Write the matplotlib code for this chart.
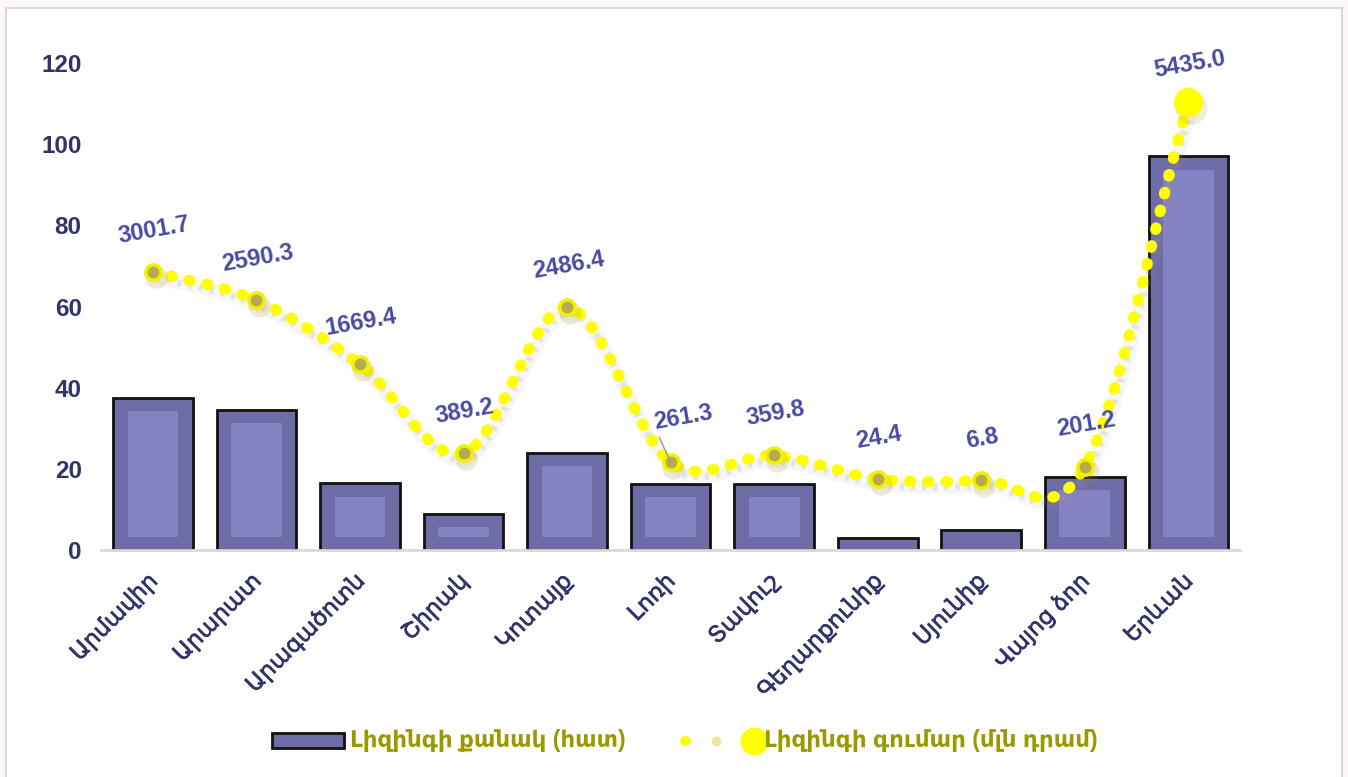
import numpy as np
import matplotlib
matplotlib.use("Agg")
import matplotlib.pyplot as plt
import matplotlib.transforms as mtransforms
import matplotlib.patheffects as pe
from matplotlib.patches import Rectangle
from matplotlib.lines import Line2D

plt.rcParams['font.family'] = ['Liberation Sans', 'DejaVu Sans']

regions = ["Արմավիր", "Արարատ", "Արագածոտն", "Շիրակ", "Կոտայք", "Լոռի",
           "Տավուշ", "Գեղարքունիք", "Սյունիք", "Վայոց ձոր", "Երևան"]
lease_count = [37.5, 34.5, 16.5, 9, 24, 16.3, 16.3, 3, 5, 18, 97]
lease_amount = [3001.7, 2590.3, 1669.4, 389.2, 2486.4, 261.3, 359.8, 24.4, 6.8, 201.2, 5435.0]
amount_labels = ["3001.7", "2590.3", "1669.4", "389.2", "2486.4", "261.3",
                 "359.8", "24.4", "6.8", "201.2", "5435.0"]
legend_labels = ["Լիզինգի քանակ (հատ)", "Լիզինգի գումար (մլն դրամ)"]

label_navy = '#33336b'
label_blue = '#4a4aa3'
olive = '#9a9a00'
bar_color = '#6e6ca6'

fig = plt.figure(figsize=(13.48, 7.77), dpi=100)
fig.patch.set_facecolor('#fdf7fc')
fig.add_artist(Rectangle((6 / 1348, -0.01), 1336 / 1348, 1 - 8 / 777 + 0.01,
                         transform=fig.transFigure, facecolor='white',
                         edgecolor='#d9d9d9', linewidth=1.5, zorder=-5))

ax = fig.add_axes([0.075, 0.292, 0.845, 0.627])
ax.patch.set_alpha(0)
x = np.arange(len(regions))

# bars: darker outer body with a lighter inset panel
ax.bar(x, lease_count, width=0.77, color=bar_color, edgecolor='#111111',
       linewidth=2, zorder=2)
inset = 3.3
for xi, v in zip(x, lease_count):
    if v > 2 * inset + 1:
        ax.bar(xi, v - 2 * inset, bottom=inset, width=0.49, color='#8582c4',
               linewidth=0, zorder=3)

ax.set_xlim(-0.5, len(regions) - 0.5)
ax.set_ylim(0, 120)
ax.set_yticks(np.arange(0, 121, 20))
ax.tick_params(axis='y', length=0, pad=14, labelsize=17.5, labelcolor=label_navy)
for t in ax.get_yticklabels():
    t.set_fontweight('bold')
ax.set_xticks(x)
ax.set_xticklabels(regions, rotation=45, ha='right', va='top',
                   rotation_mode='anchor', fontsize=16.5, color=label_navy)
ax.tick_params(axis='x', length=0, pad=14)
shift = mtransforms.ScaledTranslation(-5 / 72, 0, fig.dpi_scale_trans)
for t in ax.get_xticklabels():
    t.set_path_effects([pe.withStroke(linewidth=0.45, foreground=label_navy)])
    t.set_transform(t.get_transform() + shift)
for s in ['top', 'right', 'left']:
    ax.spines[s].set_visible(False)
ax.spines['bottom'].set_color('#d9d9d9')
ax.spines['bottom'].set_linewidth(2)
ax.spines['bottom'].set_zorder(5)

# amount series on hidden secondary axis
ax2 = ax.twinx()
ax2.set_ylim(-1000, 6000)
ax2.axis('off')

# smooth curve through the points (Catmull-Rom)
px = np.array(x, dtype=float)
py = np.array(lease_amount, dtype=float)
P = np.column_stack([px, py])
P = np.vstack([P[0] - (P[1] - P[0]), P, P[-1] + (P[-1] - P[-2])])
cx, cy = [], []
t = np.linspace(0, 1, 30)
for i in range(1, len(P) - 2):
    p0, p1, p2, p3 = P[i - 1], P[i], P[i + 1], P[i + 2]
    seg = 0.5 * ((2 * p1)[None, :] + (-p0 + p2)[None, :] * t[:, None]
                 + (2 * p0 - 5 * p1 + 4 * p2 - p3)[None, :] * t[:, None] ** 2
                 + (-p0 + 3 * p1 - 3 * p2 + p3)[None, :] * t[:, None] ** 3)
    cx.extend(seg[:-1, 0])
    cy.extend(seg[:-1, 1])
cx.append(px[-1])
cy.append(py[-1])

shadow = ax2.transData + mtransforms.ScaledTranslation(2 / 72, -4 / 72, fig.dpi_scale_trans)
ax2.plot(cx, cy, color='#999999', lw=10, alpha=0.07, transform=shadow, zorder=4,
         solid_capstyle='round')
ax2.plot(cx, cy, color='#999999', lw=5, dashes=(0.6, 1.0), alpha=0.2,
         transform=shadow, zorder=4)
ax2.plot(cx, cy, color='#ffff00', lw=8, dashes=(0.15, 1.5),
         dash_capstyle='round', zorder=5)

# markers with a soft olive glow
ax2.plot(px[:-1], py[:-1], 'o', ms=16, color='#a08a20', alpha=0.18, zorder=6,
         markeredgewidth=0, transform=shadow)
ax2.plot(px[:-1], py[:-1], 'o', ms=11, mfc='#b8aa50', mec='#f2f200',
         mew=2.5, zorder=7)
ax2.plot(px[-1], py[-1], 'o', ms=23, color='#a08a20', alpha=0.15, zorder=6,
         markeredgewidth=0, transform=shadow)
ax2.plot(px[-1], py[-1], 'o', ms=20, mfc='#ffff00', mec='#ffff00', zorder=7)

for i, (xi, v, lab) in enumerate(zip(px, py, amount_labels)):
    dy = 27 if i == len(px) - 1 else 30
    if regions[i] == "Լոռի":
        ax2.annotate(lab, (xi, v), xytext=(9, 32), textcoords='offset points',
                     ha='center', va='center', rotation=10, fontsize=17,
                     fontweight='bold', color=label_blue, zorder=8,
                     arrowprops=dict(arrowstyle='-', color='#999999', lw=1,
                                     shrinkA=0, shrinkB=0,
                                     relpos=(0.05, 0.2)))
    else:
        ax2.annotate(lab, (xi, v), xytext=(1, dy), textcoords='offset points',
                     ha='center', va='center', rotation=10, fontsize=17,
                     fontweight='bold', color=label_blue, zorder=8)

# legend drawn by hand in figure pixels
W, H = 1348, 777
ly = 1 - 741 / H
fig.add_artist(Rectangle((272 / W, 1 - 748 / H), 72 / W, 15 / H,
                         transform=fig.transFigure, facecolor=bar_color,
                         edgecolor='#111111', linewidth=2))
fig.text(350 / W, ly, legend_labels[0], color=olive, fontsize=16.5,
         fontweight='bold', va='center', ha='left')
fig.add_artist(Line2D([685 / W, 701 / W], [ly, ly], transform=fig.transFigure,
                      color='#ffff00', lw=7, dashes=(0.1, 1.6),
                      dash_capstyle='round'))
fig.add_artist(Line2D([716 / W], [ly], transform=fig.transFigure, marker='o',
                      ms=6, color='#e8e89a', lw=0))
fig.add_artist(Line2D([754 / W], [ly], transform=fig.transFigure, marker='o',
                      ms=19, color='#ffff00', lw=0))
fig.text(764 / W, ly, legend_labels[1], color=olive, fontsize=16.5,
         fontweight='bold', va='center', ha='left')

fig.savefig('out.png', dpi=100, facecolor=fig.get_facecolor())
